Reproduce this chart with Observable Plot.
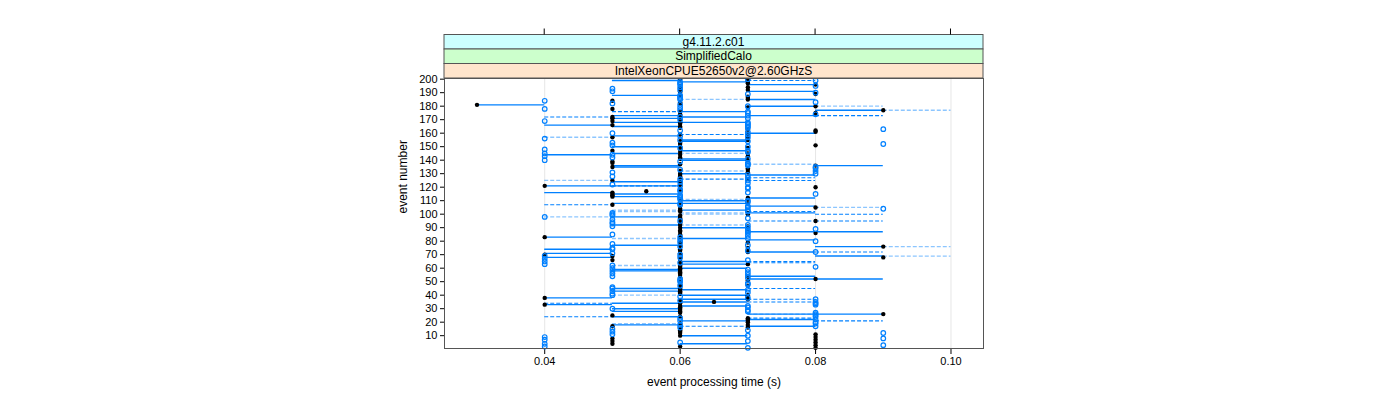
<!DOCTYPE html>
<html><head><meta charset="utf-8">
<script src="https://cdn.jsdelivr.net/npm/d3@7"></script>
<script src="https://cdn.jsdelivr.net/npm/@observablehq/plot@0.6"></script>
<style>body{margin:0;background:#fff;} svg{font-family:"Liberation Sans",Arial,sans-serif;}</style>
</head><body><div id="chart"></div>
<script>
// event processing time in ms, for events 1..200 (index 0 = event 1)
const blackMs = [
80,60,80,50,80,50,80,50,80,60, 80,60,60,60,60,70,50,70,60,70,
70,70,70,60,50,90,60,60,60,60, 60,60,40,60,65,60,70,40,70,70,
60,60,60,60,60,60,70,60,60,60, 70,80,60,70,60,60,60,60,60,60,
60,60,70,60,60,50,60,90,50,40, 60,70,60,60,70,90,60,60,70,60,
60,60,40,60,60,80,60,60,70,60, 70,60,60,60,80,60,60,60,60,70,
70,60,60,60,80,60,50,70,60,60, 70,70,50,50,50,50,55,60,60,80,
40,60,60,60,50,70,60,60,60,60, 70,60,70,70,50,80,60,50,50,70,
60,60,70,60,70,60,50,60,70,60, 80,60,60,60,70,70,50,70,60,70,
80,80,70,60,60,50,60,60,50,60, 50,50,60,60,80,60,90,50,70,80,
30,60,60,50,70,70,70,60,80,60, 60,70,60,70,60,80,70,70,70,60];
const blueMs = [
70,40,90,40,60,70,40,90,40,70, 50,90,50,70,50,60,80,60,80,80,
60,80,60,80,80,80,80,70,70,50, 70,70,80,80,80,60,80,70,60,50,
50,70,50,70,50,50,60,70,70,60, 60,60,70,50,70,50,70,50,70,50,
80,50,40,60,40,70,40,60,40,60, 50,80,70,50,50,60,70,50,60,80,
60,70,60,70,50,70,70,70,80,70, 50,70,50,50,60,50,70,40,50,50,
50,70,70,90,70,70,60,60,70,70, 60,60,60,60,80,70,60,60,70,70,
60,50,70,60,70,60,70,50,70,80, 50,80,60,80,80,70,70,70,60,40,
70,50,40,50,40,70,70,40,60,70, 50,90,50,70,60,40,70,60,70,50,
70,60,90,70,70,70,70,70,40,60, 70,60,70,80,70,70,60,40,60,70,
60,50,80,40,60,60,60,60,70,80, 50,60,50,60,80,60,60,60,80,70];
// [event, from ms, to ms]
const solidSegs = [
[199,50,60],[198,60,70],[196,70,80],[191,70,80],[188,50,60],[185,70,80],[181,30,40],[180,70,80],[177,80,90],
[176,60,70],[173,70,80],[173,50,60],[171,50,60],[172,60,70],[168,60,70],[166,40,50],[168,50,60],[165,50,60],
[158,50,60],[160,70,80],[155,60,70],[154,60,70],[150,50,60],[147,60,70],[144,40,50],[145,50,60],[141,60,70],
[140,60,70],[136,50,60],[136,80,90],[135,50,60],[130,60,70],[129,70,80],[124,50,60],[121,40,60],[116,40,50],
[115,50,60],[113,50,60],[112,70,80],[110,60,70],[108,60,70],[108,50,60],[106,70,80],[103,60,70],[101,70,80],
[98,50,60],[92,50,60],[90,60,70],[87,70,90],[83,40,50],[82,60,70],[81,70,80],[77,50,60],[76,80,90],[74,40,50],
[72,70,80],[71,40,50],[69,80,90],[68,40,50],[65,60,70],[63,60,70],[60,60,70],[59,50,60],[58,50,60],[54,70,80],
[52,70,90],[45,50,60],[44,60,70],[43,50,60],[40,60,70],[38,40,50],[37,60,70],[34,50,60],[35,60,70],[33,40,50],
[32,60,70],[30,50,60],[28,50,60],[26,70,90],[24,50,60],[22,70,80],[21,60,70],[18,50,60],[17,70,80],[10,60,70],[4,60,70]];
const dashSegs = [
[199,70,80],[173,80,90],[172,40,50],[176,50,60],[159,60,70],[126,60,70],[127,70,80],[125,70,80],[121,50,60],
[107,40,50],[102,70,80],[100,80,90],[95,70,80],[95,80,90],[72,80,90],[65,70,80],[64,70,80],[45,70,80],
[37,70,80],[35,70,80],[34,40,50],[24,40,50],[17,60,70],[21,80,90],[23,70,80]];
const lightDashSegs = [
[185,60,70],[180,80,90],[177,90,100],[157,40,50],[145,60,70],[137,70,80],[132,60,70],[125,40,50],[111,60,70],
[103,50,60],[105,80,90],[98,40,50],[102,50,60],[101,60,70],[100,60,70],[92,60,70],[82,50,60],[76,90,100],
[69,90,100],[62,50,60],[40,50,60],[26,70,80],[19,50,60]];
const stripLabels = ["g4.11.2.c01","SimplifiedCalo","IntelXeonCPUE52650v2@2.60GHzS"];
const stripColors = ["#ccffff","#ccffcc","#ffe5cc"];
const xTicks = [0.04,0.06,0.08,0.10];
const yTicks = d3.range(10,201,10);
const xTitle = "event processing time (s)";
const yTitle = "event number";

const black = blackMs.map((v,i)=>({event:i+1,time:v/1000}));
const blue = blueMs.map((v,i)=>({event:i+1,time:v/1000}));
const seg = arr => arr.map(([e,a,b])=>({event:e,x1:a/1000,x2:b/1000}));
const blueC = "#0080ff";

const plot = Plot.plot({
  width:1400, height:400,
  marginLeft:444, marginRight:417, marginTop:78, marginBottom:52,
  style:{fontSize:"11px", fontFamily:"'Liberation Sans',Arial,sans-serif", color:"#000", background:"#fff"},
  x:{domain:[0.0252,0.1048], ticks:xTicks, tickFormat:d3.format(".2f"), tickSize:6, tickPadding:3, label:null},
  y:{domain:[0.5,200.5], ticks:yTicks, tickSize:4, tickPadding:3, label:null},
  marks:[
    Plot.ruleX(xTicks,{stroke:"#e6e6e6"}),
    Plot.ruleY(seg(lightDashSegs),{y:"event",x1:"x1",x2:"x2",stroke:blueC,strokeOpacity:0.45,strokeWidth:1.3,strokeDasharray:"4,2"}),
    Plot.ruleY(seg(dashSegs),{y:"event",x1:"x1",x2:"x2",stroke:blueC,strokeWidth:1.1,strokeDasharray:"4,2"}),
    Plot.ruleY(seg(solidSegs),{y:"event",x1:"x1",x2:"x2",stroke:blueC,strokeWidth:1.4}),
    Plot.dot(black,{x:"time",y:"event",r:2.2,fill:"#000",stroke:null}),
    Plot.dot(blue,{x:"time",y:"event",r:2.3,fill:"none",stroke:blueC,strokeWidth:1.2}),
    Plot.frame({stroke:"#555"}),
    Plot.text([yTitle],{frameAnchor:"left",dx:-41,rotate:-90,fontSize:12,text:d=>d}),
    Plot.text([xTitle],{frameAnchor:"bottom",dy:37,fontSize:12,text:d=>d})
  ]
});
document.getElementById("chart").appendChild(plot);

// strips and top ticks, positioned from the plot's own scales
const svg = d3.select(plot);
const xs = plot.scale("x");
const [xl, xr] = xs.range;
const panelTop = 78, sh = 14.5;
const g = svg.append("g");
stripLabels.forEach((lab,i)=>{
  const y0 = panelTop - (stripLabels.length - i)*sh;
  g.append("rect").attr("x",xl).attr("y",y0).attr("width",xr-xl).attr("height",sh)
    .attr("fill",stripColors[i]).attr("stroke","#555");
  g.append("text").attr("x",(xl+xr)/2).attr("y",y0+sh/2).attr("dy","0.35em")
    .attr("text-anchor","middle").attr("font-size",12).text(lab);
});
const stripTop = panelTop - stripLabels.length*sh;
xTicks.forEach(t=>{
  const px = xs.apply(t);
  g.append("line").attr("x1",px).attr("x2",px).attr("y1",stripTop).attr("y2",stripTop-6).attr("stroke","#000");
});
</script></body></html>
